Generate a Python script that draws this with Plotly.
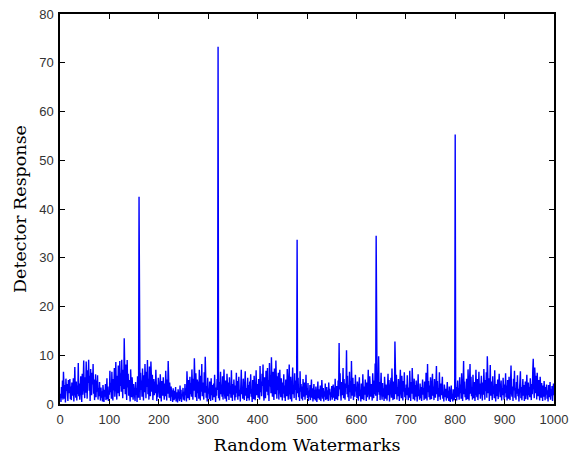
import plotly.graph_objects as go

row00 = [2.1,0.4,3.5,1.2,4.8,0.9,6.6,2.3,1.1,3.9,0.3,5.2,2.7,4.1,1.5,0.6,4.9,3.3,2.2,5.1,1.0,3.6,0.8,4.4,2.9,1.7,5.3,0.5,3.1,7.6,2.4,1.3,4.6,0.7,3.8,2.0,8.4,1.6,4.2,0.9,3.4,5.7,2.6,0.4,6.2,1.9,4.7,8.9,3.0,1.2]
row01 = [5.5,2.3,8.7,3.8,1.1,6.9,4.3,9.1,2.7,5.8,0.6,7.2,3.5,1.8,6.4,4.0,8.2,2.1,5.0,0.8,3.7,6.1,1.4,4.8,2.5,5.9,0.9,3.2,1.6,4.5,2.0,0.7,3.4,1.3,2.6,0.5,3.9,1.8,0.4,2.9,1.5,4.1,0.8,2.2,5.3,1.0,3.6,0.6,2.7,1.9]
row02 = [6.8,2.4,4.3,1.1,6.6,3.0,0.7,5.1,2.8,7.4,1.5,4.6,8.6,3.3,0.9,5.8,2.2,7.9,4.0,1.6,8.8,3.7,6.3,2.5,9.1,4.4,1.2,7.0,3.1,13.5,5.6,2.0,8.1,4.7,0.8,9.0,3.4,6.2,1.7,4.9,2.6,0.5,7.1,3.8,1.4,5.5,2.3,0.9,4.1,3.0]
row03 = [2.8,0.6,4.5,1.9,3.3,0.4,5.7,2.1,1.3,42.5,3.6,0.8,6.4,2.9,4.8,1.5,7.3,3.2,0.7,5.9,2.4,8.2,4.1,1.2,6.6,3.5,9.0,2.0,5.2,0.9,7.7,3.8,1.6,8.7,4.3,2.5,6.0,0.8,3.4,5.1,1.8,4.6,2.2,7.0,3.1,0.6,4.0,1.4,5.4,2.7]
row04 = [3.9,1.2,6.1,2.6,0.5,4.7,3.0,1.7,5.5,2.3,0.9,4.2,1.6,6.8,3.4,0.7,5.0,2.1,8.8,3.7,1.3,4.4,2.5,0.6,3.6,1.5,2.8,0.4,3.2,1.9,0.8,2.7,1.1,3.5,0.5,2.4,1.8,0.3,3.0,1.4,2.2,0.6,3.8,1.0,2.9,0.4,2.0,1.6,3.3,0.9]
row05 = [2.5,0.7,4.1,1.8,3.2,0.5,6.7,2.4,1.2,4.9,3.1,0.8,5.6,2.0,4.3,1.5,7.1,3.6,0.9,5.2,2.7,9.4,4.0,1.4,6.3,3.3,0.6,5.0,2.2,4.6,1.1,7.0,3.9,0.7,5.8,2.5,8.2,1.6,4.4,3.0,0.9,6.5,2.3,9.7,4.8,1.3,3.7,0.5,5.4,2.1]
row06 = [3.1,1.0,4.6,2.2,0.6,5.3,1.8,3.9,0.8,2.7,4.2,1.4,6.0,2.5,0.4,3.4,1.7,5.1,2.9,73.3,1.2,4.5,0.7,3.3,6.6,2.0,4.0,1.5,5.7,0.9,3.6,7.1,2.3,1.1,4.8,2.6,0.5,6.2,3.0,1.6,4.4,0.8,5.5,2.1,3.7,1.3,6.9,2.8,0.6,4.1]
row07 = [1.9,5.0,2.6,0.7,3.8,1.4,6.4,2.2,4.7,0.9,3.1,5.6,1.6,2.9,0.5,4.3,7.0,2.0,3.5,1.1,5.2,2.7,0.8,4.0,6.7,1.7,3.3,0.6,2.4,5.4,1.2,3.9,0.7,4.6,2.1,6.1,1.5,3.0,0.4,4.9,2.6,1.0,5.8,3.4,0.8,2.3,6.9,1.8,4.1,2.9]
row08 = [1.3,5.1,3.0,0.9,7.8,2.4,4.6,1.6,6.2,3.7,8.1,2.0,0.7,5.5,3.2,1.2,6.8,4.0,2.5,7.4,1.8,4.9,0.6,8.4,3.6,5.9,2.2,9.6,4.3,1.5,6.6,3.1,0.8,7.3,4.7,2.0,8.9,3.4,1.1,5.7,2.8,6.4,0.9,4.2,7.0,2.6,1.4,5.3,3.5,0.7]
row09 = [4.4,2.1,6.1,1.3,3.8,0.6,5.0,2.7,1.6,7.2,3.3,0.9,4.6,8.1,2.4,1.0,5.6,3.1,0.5,4.0,7.5,2.0,3.7,1.2,6.3,2.9,4.8,0.8,3.5,33.7,2.2,5.4,1.4,3.0,0.6,6.7,2.5,4.1,1.1,3.6,0.7,5.1,2.3,1.5,4.4,0.9,2.8,6.0,1.8,3.2]
row10 = [1.2,4.3,0.6,2.7,1.5,3.9,0.8,2.1,5.0,1.3,3.2,0.5,2.5,4.1,1.0,2.9,0.7,3.6,1.8,0.4,2.3,4.6,1.2,3.0,0.9,2.0,3.8,0.6,1.7,4.9,2.4,1.1,3.3,0.5,2.6,1.5,4.2,0.8,2.2,3.5,1.0,2.8,0.6,4.4,1.9,3.1,0.7,2.4,1.4,3.7]
row11 = [0.9,2.6,4.0,1.3,3.4,0.6,5.2,2.1,1.0,3.7,2.5,0.8,4.8,1.6,12.5,3.0,6.3,2.2,0.7,4.5,1.8,3.6,7.4,1.2,5.1,2.7,0.9,4.2,3.3,11.0,2.0,5.8,1.4,3.9,0.6,6.6,2.4,4.7,1.1,8.8,3.2,1.7,5.4,0.8,2.9,4.1,1.5,6.0,2.6,3.5]
row12 = [1.2,4.6,2.3,0.7,3.8,5.5,1.6,2.9,0.5,4.2,3.1,1.0,6.1,2.5,0.8,3.6,1.9,5.0,2.7,0.6,4.4,1.4,3.3,7.0,2.2,0.9,5.7,3.0,1.5,4.1,2.6,0.7,6.3,3.5,1.2,4.8,2.0,8.3,1.7,34.5,3.2,0.6,5.3,2.4,9.8,1.9,4.5,0.8,3.0,6.4]
row13 = [2.1,0.9,4.3,1.5,3.2,0.6,5.6,2.8,1.1,4.0,2.4,0.7,3.7,6.2,1.8,4.9,0.5,3.1,2.2,5.4,1.3,7.3,2.9,0.8,4.6,3.4,1.0,12.8,4.1,2.0,6.0,0.9,3.5,1.6,5.1,2.6,0.6,4.4,7.0,2.3,1.2,5.8,3.0,0.7,4.7,2.5,6.5,1.4,3.3,0.9]
row14 = [4.0,1.8,5.9,2.6,0.8,3.4,1.3,6.8,2.9,0.6,4.5,2.1,7.4,3.6,1.0,2.5,5.2,0.7,3.9,1.5,4.8,2.7,0.5,3.1,6.1,1.6,2.3,0.9,4.2,1.2,3.5,0.6,2.8,5.0,1.9,3.3,0.8,4.6,2.2,1.1,6.4,3.0,0.7,8.2,2.4,4.7,1.4,3.8,0.9,5.5]
row15 = [2.3,1.0,4.4,6.2,1.7,3.6,0.8,5.1,2.9,1.3,3.9,7.8,2.0,4.7,0.6,3.2,1.5,6.5,2.6,0.9,4.2,1.8,3.4,5.6,1.1,2.4,0.5,4.0,2.8,1.4,3.1,0.7,2.2,4.5,1.2,2.7,0.6,3.6,1.9,0.4,2.5,3.8,1.0,2.1,0.5,3.0,1.6,0.8,2.4,55.3]
row16 = [1.3,3.5,0.7,2.6,4.8,1.5,3.2,0.9,5.5,2.2,4.0,1.1,6.3,2.8,0.6,3.9,8.8,2.0,4.6,1.4,3.1,0.8,5.2,2.5,1.0,7.1,3.7,0.7,4.3,8.2,2.1,5.6,1.6,3.4,0.9,6.0,2.7,1.2,4.5,0.6,3.3,7.0,2.3,1.4,5.1,0.8,3.0,6.6,2.0,4.2]
row17 = [1.1,3.6,5.8,2.4,0.7,4.4,1.9,7.2,3.1,0.9,4.9,2.6,6.5,1.3,9.8,3.8,2.2,5.3,0.6,3.4,8.0,1.7,4.6,2.8,0.8,5.7,2.0,3.5,1.2,6.9,2.9,0.5,4.1,1.6,3.0,5.0,1.0,2.5,6.2,3.7,1.4,2.2,4.8,0.7,3.3,1.8,5.4,2.6,0.9,4.0]
row18 = [2.2,6.3,1.4,3.8,0.7,4.9,2.5,1.1,5.6,3.0,0.8,4.2,7.9,2.3,1.5,3.6,0.6,5.2,2.8,6.8,1.3,3.3,0.9,4.5,2.1,5.9,1.6,3.1,0.5,4.0,2.6,6.7,1.2,3.5,0.8,2.9,5.1,1.7,3.9,0.6,2.4,4.6,1.0,3.2,6.0,2.2,0.9,4.4,1.8,3.5]
row19 = [1.4,5.3,2.6,0.8,4.1,2.0,6.8,9.3,3.4,1.2,7.5,4.6,2.2,5.8,0.9,6.4,3.1,1.6,4.9,2.5,0.7,5.6,3.3,1.3,4.3,2.1,0.6,3.8,1.5,4.7,2.4,0.8,3.5,1.9,4.0,1.1,2.8,0.5,3.9,2.3,1.4,4.5,0.9,3.0,1.7,3.7,0.6,2.7,4.2,1.8]

rows = [row00, row01, row02, row03, row04, row05, row06, row07, row08, row09,
        row10, row11, row12, row13, row14, row15, row16, row17, row18, row19]
response = [v for r in rows for v in r]
watermarks = list(range(1, len(response) + 1))

x_ticks = [0, 100, 200, 300, 400, 500, 600, 700, 800, 900, 1000]
y_ticks = [0, 10, 20, 30, 40, 50, 60, 70, 80]

fig = go.Figure(go.Scatter(
    x=watermarks, y=response, mode="lines",
    line=dict(color="rgb(0,0,255)", width=1.4),
))

axis_common = dict(
    showline=True, linecolor="black", linewidth=1.5, mirror="ticks",
    ticks="inside", ticklen=5, tickcolor="black", tickwidth=1,
    showgrid=False, zeroline=False, automargin=False,
    tickfont=dict(family="Liberation Sans, Arial, sans-serif", size=13, color="#333"),
)

fig.update_layout(
    width=572, height=456,
    margin=dict(l=60, r=18, t=14, b=52),
    paper_bgcolor="white", plot_bgcolor="white",
    showlegend=False,
    xaxis=dict(range=[0, 1000], tickvals=x_ticks, ticklabelstandoff=3,
               title=dict(text="Random Watermarks", standoff=12,
                          font=dict(family="DejaVu Serif, serif", size=17.5, color="black")),
               **axis_common),
    yaxis=dict(range=[0, 80], tickvals=y_ticks, ticklabelstandoff=2,
               title=dict(text="Detector Response", standoff=8,
                          font=dict(family="DejaVu Serif, serif", size=17.5, color="black")),
               **axis_common),
)

fig.write_html("out.html",
               config={"displayModeBar": False},
               post_script="document.body.style.margin='0';document.body.style.overflow='hidden';")
